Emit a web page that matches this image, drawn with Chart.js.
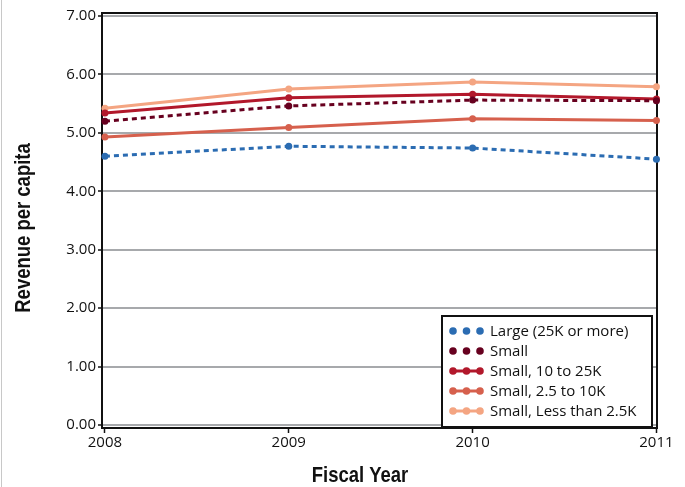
<!DOCTYPE html>
<html>
<head>
<meta charset="utf-8">
<script src="https://cdn.jsdelivr.net/npm/chart.js@4/dist/chart.umd.min.js"></script>
<style>
  html, body { margin: 0; padding: 0; background: #fff; }
  #wrap { width: 685px; height: 487px; position: relative; }
</style>
</head>
<body>
<div id="wrap"><canvas id="c" width="685" height="487"></canvas></div>
<script>
// Fiscal years on the x axis
const years = [2008, 2009, 2010, 2011];

// Revenue per capita by municipality size
const largeVals   = [4.60, 4.77, 4.74, 4.55];
const smallVals   = [5.20, 5.46, 5.56, 5.55];
const small10to25 = [5.34, 5.60, 5.66, 5.58];
const small25to10 = [4.93, 5.09, 5.24, 5.21];
const smallUnder25 = [5.42, 5.75, 5.87, 5.79];

const seriesNames = [
  'Large (25K or more)',
  'Small',
  'Small, 10 to 25K',
  'Small, 2.5 to 10K',
  'Small, Less than 2.5K'
];

// Y tick values
const yTicks = [0, 1, 2, 3, 4, 5, 6, 7];

const colors = ['#2b6cb2', '#67001f', '#b2182b', '#d6604d', '#f4a582'];
const dashed = [true, true, false, false, false];
const values = [largeVals, smallVals, small10to25, small25to10, smallUnder25];

const tickFont = "'Open Sans', 'Noto Sans', sans-serif";
const titleFont = "'Liberation Sans', Arial, sans-serif";

const datasets = values.map((vals, i) => ({
  label: seriesNames[i],
  data: vals.map((v, j) => ({ x: years[j], y: v })),
  borderColor: colors[i],
  backgroundColor: colors[i],
  borderWidth: 3,
  borderDash: dashed[i] ? [5, 4] : [],
  pointRadius: 3.5,
  pointHoverRadius: 3.5,
  pointBorderWidth: 0,
  tension: 0,
  clip: false
}));

// Condensed bold text: draw horizontally squeezed
function condensedText(ctx, text, x, y, angle) {
  ctx.save();
  ctx.translate(x, y);
  if (angle) ctx.rotate(angle);
  ctx.scale(0.84, 1);
  ctx.fillText(text, 0, 0);
  ctx.restore();
}

// Frame, axis titles and legend box
const decorations = {
  id: 'decorations',
  beforeDraw(chart) {
    const ctx = chart.ctx;
    ctx.save();
    ctx.fillStyle = '#c8c8c8';
    ctx.fillRect(1, 0, 1, chart.height);
    ctx.restore();
  },
  beforeDatasetsDraw(chart) {
    const { ctx, chartArea: a } = chart;
    ctx.save();
    ctx.strokeStyle = '#111';
    ctx.lineWidth = 2;
    ctx.beginPath();
    ctx.moveTo(a.left, a.top);
    ctx.lineTo(a.right, a.top);
    ctx.lineTo(a.right, a.bottom);
    ctx.stroke();
    ctx.restore();
  },
  afterDraw(chart) {
    const { ctx } = chart;
    ctx.save();
    // axis titles
    ctx.fillStyle = '#111';
    ctx.font = "bold 22px " + titleFont;
    ctx.textAlign = 'center';
    ctx.textBaseline = 'middle';
    condensedText(ctx, 'Fiscal Year', 360, 476, 0);
    condensedText(ctx, 'Revenue per capita', 24, 228, -Math.PI / 2);
    ctx.restore();

    // legend
    ctx.save();
    const bx = 442, by = 316, bw = 210, bh = 111;
    ctx.fillStyle = '#fff';
    ctx.fillRect(bx, by, bw, bh);
    ctx.strokeStyle = '#111';
    ctx.lineWidth = 2;
    ctx.strokeRect(bx, by, bw, bh);
    ctx.font = "15px " + tickFont;
    ctx.textBaseline = 'middle';
    ctx.textAlign = 'left';
    chart.data.datasets.forEach((ds, i) => {
      const y = 331 + i * 20;
      const xs = [453, 466.5, 480];
      if (!dashed[i]) {
        ctx.strokeStyle = ds.borderColor;
        ctx.lineWidth = 3;
        ctx.beginPath();
        ctx.moveTo(xs[0], y);
        ctx.lineTo(xs[2], y);
        ctx.stroke();
      }
      ctx.fillStyle = ds.borderColor;
      xs.forEach(x => {
        ctx.beginPath();
        ctx.arc(x, y, 3.8, 0, Math.PI * 2);
        ctx.fill();
      });
      ctx.fillStyle = '#111';
      ctx.fillText(ds.label, 490, y + 1);
    });
    ctx.restore();
  }
};

new Chart(document.getElementById('c'), {
  type: 'line',
  data: { datasets },
  options: {
    responsive: false,
    animation: false,
    events: [],
    layout: { padding: { top: 13, right: 28, left: 0, bottom: 0 } },
    plugins: {
      legend: { display: false },
      tooltip: { enabled: false },
      title: { display: false }
    },
    scales: {
      x: {
        type: 'linear',
        min: 2007.984,
        max: 2011.003,
        afterBuildTicks: s => { s.ticks = years.map(v => ({ value: v })); },
        afterFit: s => { s.height = 59; },
        grid: { drawOnChartArea: false, drawTicks: true, tickLength: 5, tickColor: '#111', tickWidth: 1.5 },
        border: { color: '#111', width: 2 },
        ticks: {
          color: '#111',
          font: { family: tickFont, size: 15 },
          padding: 1,
          maxRotation: 0,
          callback: v => String(v)
        }
      },
      y: {
        type: 'linear',
        min: -0.05,
        max: 7.05,
        afterBuildTicks: s => { s.ticks = yTicks.map(v => ({ value: v })); },
        afterFit: s => { s.width = 102; },
        grid: { color: '#a7a9ac', lineWidth: 2, drawTicks: true, tickLength: 4, tickColor: '#111', tickWidth: 1.5 },
        border: { color: '#111', width: 2 },
        ticks: {
          color: '#111',
          font: { family: tickFont, size: 15 },
          padding: 2,
          callback: v => Number(v).toFixed(2)
        }
      }
    }
  },
  plugins: [decorations]
});
</script>
</body>
</html>
